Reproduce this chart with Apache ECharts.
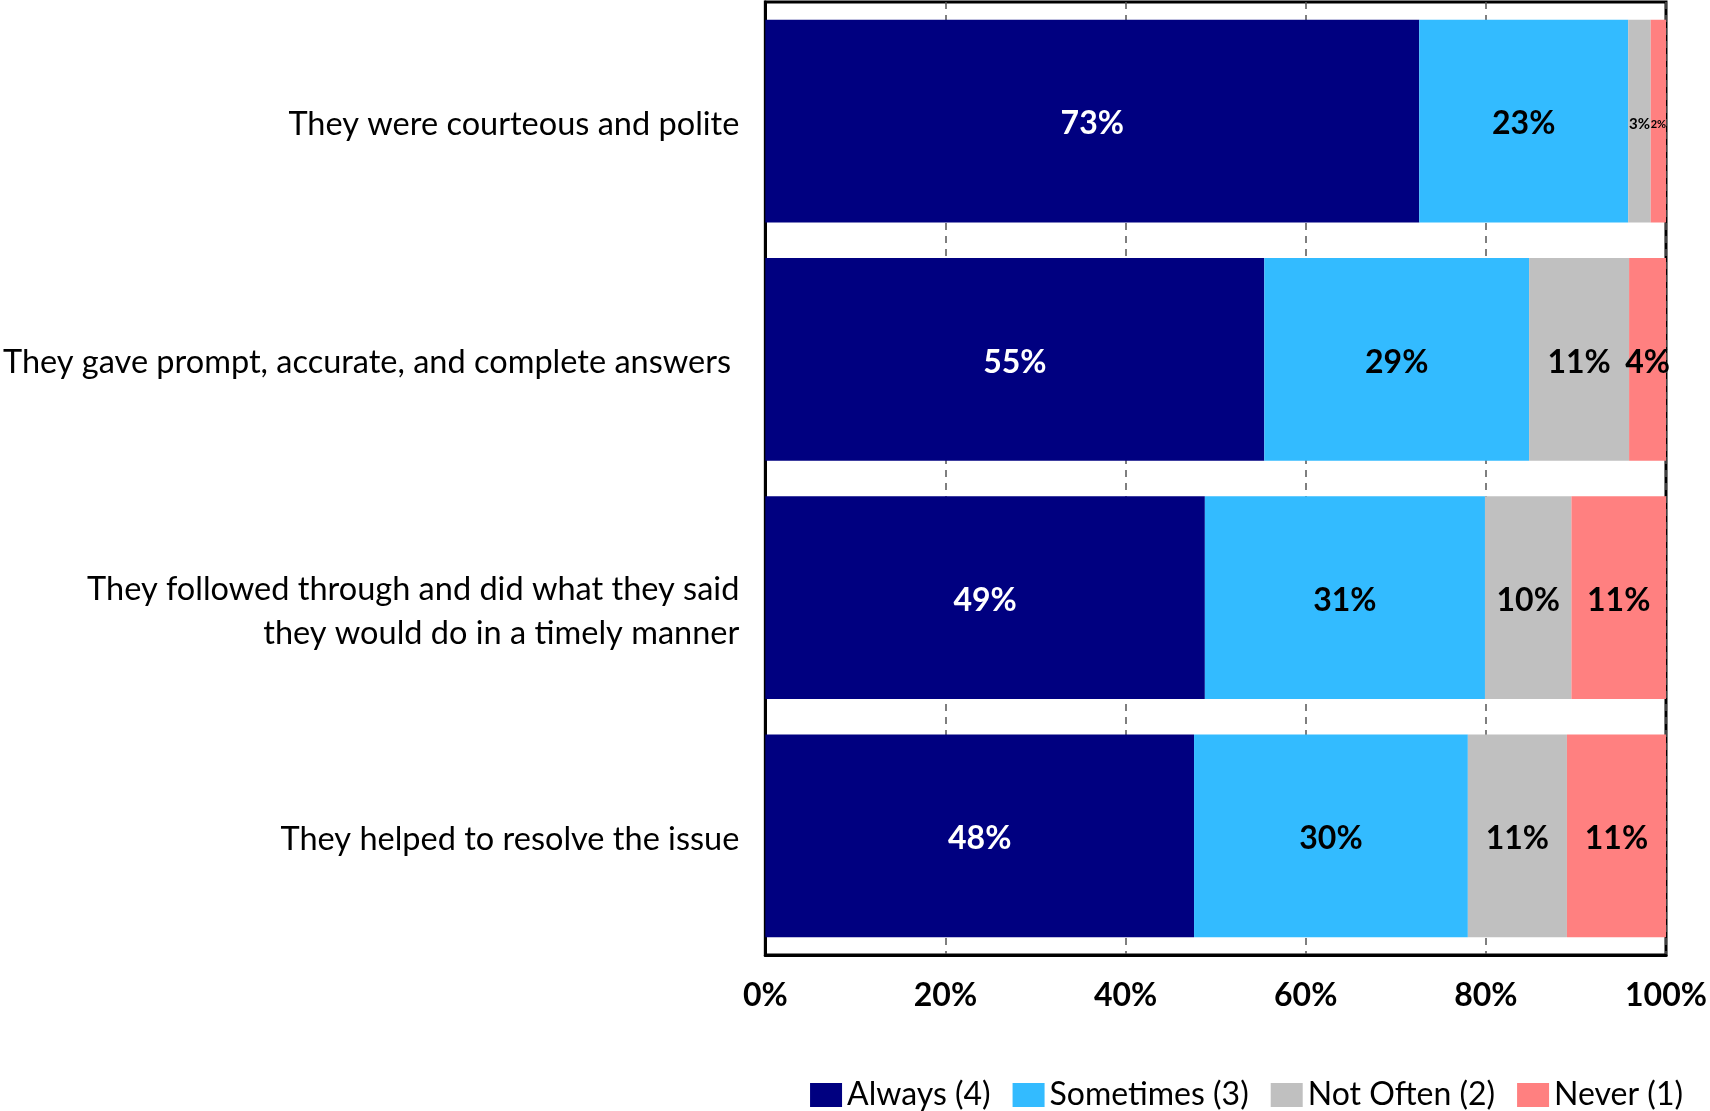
<!DOCTYPE html>
<html>
<head>
<meta charset="utf-8">
<title>Staff interaction ratings</title>
<script src="https://cdn.jsdelivr.net/npm/echarts@6/dist/echarts.min.js"></script>
<style>
  html, body { margin: 0; padding: 0; background: #ffffff; }
  #chart { width: 1710px; height: 1111px; }
</style>
</head>
<body>
<div id="chart"></div>
<script>
// Survey statements (top to bottom)
const categories = [
  'They were courteous and polite',
  'They gave prompt, accurate, and complete answers ',
  'They followed through and did what they said\nthey would do in a timely manner',
  'They helped to resolve the issue'
];

// Share of responses per rating, in percent
const always    = [72.6, 55.4, 48.8, 47.6];
const sometimes = [23.2, 29.4, 31.1, 30.4];
const notOften  = [2.5, 11.1, 9.6, 11.0];
const never     = [1.7, 4.1, 10.5, 11.0];

const seriesNames = ['Always (4)', 'Sometimes (3)', 'Not Often (2)', 'Never (1)'];
const xTicks = [0, 20, 40, 60, 80, 100];

const colors = ['#000080', '#33BBFF', '#C0C0C0', '#FF8080'];
const labelColors = ['#ffffff', '#000000', '#000000', '#000000'];
const FONT = 'Lato, "Noto Sans", sans-serif';

// narrow segments get a smaller label so it fits inside the bar
function labelSize(v) {
  if (v < 2) return 11;
  if (v < 3) return 15;
  return 32;
}

function makeSeries(name, values, idx) {
  return {
    name: name,
    type: 'bar',
    stack: 'total',
    barCategoryGap: '15%',
    itemStyle: { color: colors[idx] },
    data: values.map(v => ({
      value: v,
      label: { fontSize: labelSize(v) }
    })),
    label: {
      show: true,
      position: 'inside',
      offset: [0, 3],
      color: labelColors[idx],
      fontFamily: FONT,
      fontWeight: 'bold',
      fontSize: 32,
      formatter: p => Math.round(p.value) + '%'
    }
  };
}

// category label: a small spacer line on top nudges the text block downward
function categoryLabel(text) {
  const lines = text.split('\n');
  const spacer = lines.length > 1 ? '{gap2| }' : '{gap1| }';
  return spacer + '\n' + lines.map(l => '{t|' + l + '}').join('\n');
}

const chart = echarts.init(document.getElementById('chart'), null, { renderer: 'canvas' });

chart.setOption({
  animation: false,
  backgroundColor: '#ffffff',
  grid: {
    left: 764,
    right: 44,
    top: 2,
    bottom: 156,
    show: true,
    borderColor: '#000000',
    borderWidth: 3,
    backgroundColor: 'transparent'
  },
  legend: {
    data: seriesNames,
    right: 22,
    top: 1074,
    icon: 'rect',
    itemWidth: 32,
    itemHeight: 24,
    itemGap: 22,
    textStyle: {
      fontFamily: FONT,
      fontSize: 32,
      color: '#000000'
    }
  },
  xAxis: {
    type: 'value',
    min: 0,
    max: 100,
    interval: 20,
    axisLine: { show: true, lineStyle: { color: '#000000', width: 3 } },
    axisTick: { show: false },
    splitLine: {
      show: true,
      lineStyle: { color: '#555555', width: 1.5, type: [7, 6] }
    },
    axisLabel: {
      margin: 25,
      fontFamily: FONT,
      fontWeight: 'bold',
      fontSize: 32,
      color: '#000000',
      formatter: v => (xTicks.indexOf(v) >= 0 ? v + '%' : '')
    }
  },
  yAxis: {
    type: 'category',
    inverse: true,
    data: categories,
    axisLine: { show: true, lineStyle: { color: '#000000', width: 3 } },
    axisTick: { show: false },
    axisLabel: {
      margin: 26,
      align: 'right',
      formatter: categoryLabel,
      rich: {
        t: {
          fontFamily: FONT,
          fontSize: 32.5,
          lineHeight: 44,
          color: '#000000',
          align: 'right'
        },
        gap1: { fontSize: 1, lineHeight: 7 },
        gap2: { fontSize: 1, lineHeight: 28 }
      }
    }
  },
  series: [
    makeSeries(seriesNames[0], always, 0),
    makeSeries(seriesNames[1], sometimes, 1),
    makeSeries(seriesNames[2], notOften, 2),
    makeSeries(seriesNames[3], never, 3)
  ]
});
</script>
</body>
</html>
